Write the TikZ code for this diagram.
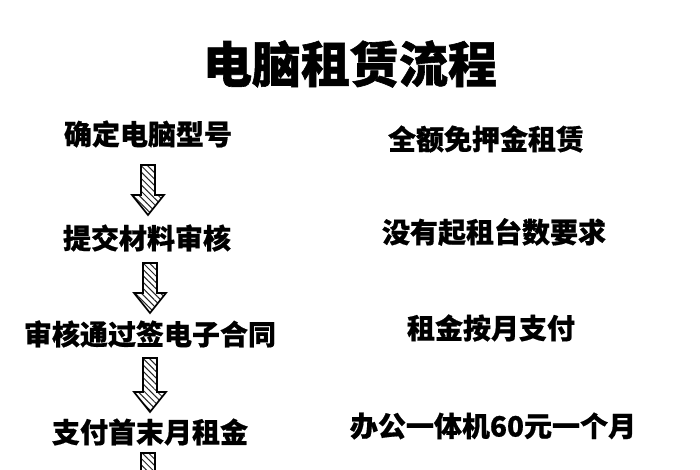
\documentclass[tikz,border=0pt]{standalone}
\usepackage{fontspec}
\newfontfamily\cjk{Noto Sans CJK SC}[BoldFont={Noto Sans CJK SC Black}]
\newfontfamily\cjkheavy{Noto Sans CJK SC Black}[FakeBold=1.2]
\newfontfamily\cjkitem{Noto Sans CJK SC Black}[FakeBold=0.6]
\usetikzlibrary{patterns.meta}
\tikzset{
  title/.style={font=\cjkheavy\fontsize{49}{52}\selectfont, text=black, inner sep=0pt},
  stepitem/.style={font=\cjkitem\fontsize{28}{30}\selectfont, text=black, inner sep=0pt},
  feature/.style={font=\cjkitem\fontsize{28}{30}\selectfont, text=black, inner sep=0pt},
  hatcharrow/.style={draw=black, line width=1.7pt, line join=miter,
    pattern={Lines[angle=-45, distance=4.5pt, line width=1pt]}, pattern color=black!85}
}
\newcommand\hatchedarrow[3]{% x, ytop, ytip
  \path[hatcharrow] (#1-7,#2) -- (#1+7,#2) -- (#1+7,#3-20) -- (#1+16,#3-20)
    -- (#1,#3) -- (#1-16,#3-20) -- (#1-7,#3-20) -- cycle;}
\begin{document}
\begin{tikzpicture}[x=1pt,y=-1pt]
\useasboundingbox[fill=white] (0,0) rectangle (700,470);
\node[title] (title) at (350,64) {电脑租赁流程};
\node[stepitem] (s1) at (148,134) {确定电脑型号};
\node[stepitem] (s2) at (147,238) {提交材料审核};
\node[stepitem] (s3) at (150,334) {审核通过签电子合同};
\node[stepitem] (s4) at (150,432) {支付首末月租金};
\node[feature] (f1) at (486,139) {全额免押金租赁};
\node[feature] (f2) at (494,232) {没有起租台数要求};
\node[feature] (f3) at (491,328) {租金按月支付};
\node[feature] (f4) at (493,426) {办公一体机60元一个月};
\hatchedarrow{148}{165}{215}
\hatchedarrow{150}{263}{313}
\hatchedarrow{150}{358}{412}
\hatchedarrow{148}{453}{505}
\end{tikzpicture}
\end{document}
